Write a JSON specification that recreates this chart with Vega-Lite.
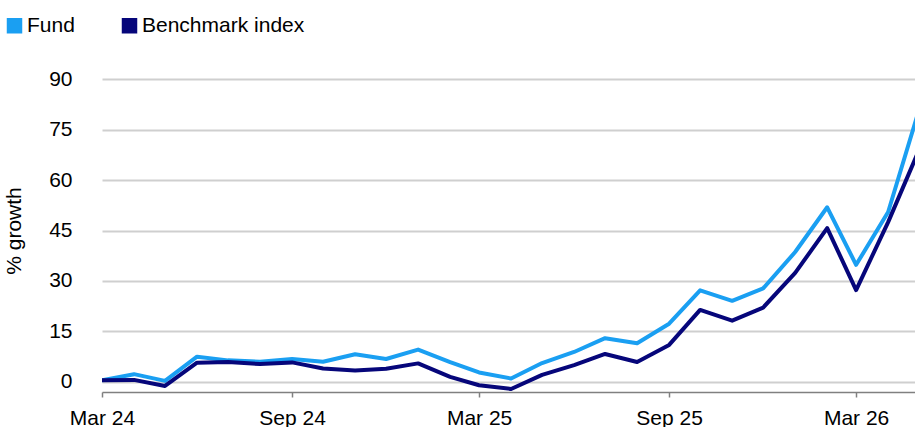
{
  "$schema": "https://vega.github.io/schema/vega-lite/v6.json",
  "width": 813,
  "height": 323,
  "autosize": {"type": "none"},
  "padding": {"left": 102, "top": 69, "right": 0, "bottom": 35},
  "background": "white",
  "config": {
    "view": {"stroke": null},
    "font": "Liberation Sans",
    "axis": {"labelFont": "Liberation Sans", "titleFont": "Liberation Sans", "labelColor": "#000000", "titleColor": "#000000"},
    "legend": {"labelFont": "Liberation Sans", "labelColor": "#000000"}
  },
  "data": {
    "values": [
      {"date": "2024-03-01", "series": "Fund", "value": 0.5},
      {"date": "2024-04-01", "series": "Fund", "value": 2.3},
      {"date": "2024-05-01", "series": "Fund", "value": 0.3},
      {"date": "2024-06-01", "series": "Fund", "value": 7.5},
      {"date": "2024-07-01", "series": "Fund", "value": 6.4},
      {"date": "2024-08-01", "series": "Fund", "value": 6.0},
      {"date": "2024-09-01", "series": "Fund", "value": 6.8},
      {"date": "2024-10-01", "series": "Fund", "value": 6.0},
      {"date": "2024-11-01", "series": "Fund", "value": 8.2},
      {"date": "2024-12-01", "series": "Fund", "value": 6.8},
      {"date": "2025-01-01", "series": "Fund", "value": 9.6},
      {"date": "2025-02-01", "series": "Fund", "value": 5.9},
      {"date": "2025-03-01", "series": "Fund", "value": 2.8},
      {"date": "2025-04-01", "series": "Fund", "value": 1.0},
      {"date": "2025-05-01", "series": "Fund", "value": 5.6},
      {"date": "2025-06-01", "series": "Fund", "value": 8.9},
      {"date": "2025-07-01", "series": "Fund", "value": 13.0},
      {"date": "2025-08-01", "series": "Fund", "value": 11.5},
      {"date": "2025-09-01", "series": "Fund", "value": 17.3},
      {"date": "2025-10-01", "series": "Fund", "value": 27.2},
      {"date": "2025-11-01", "series": "Fund", "value": 24.1},
      {"date": "2025-12-01", "series": "Fund", "value": 27.8},
      {"date": "2026-01-01", "series": "Fund", "value": 38.6},
      {"date": "2026-02-01", "series": "Fund", "value": 51.9},
      {"date": "2026-03-01", "series": "Fund", "value": 34.8},
      {"date": "2026-04-01", "series": "Fund", "value": 50.5},
      {"date": "2026-05-01", "series": "Fund", "value": 81.0},
      {"date": "2024-03-01", "series": "Benchmark index", "value": 0.5},
      {"date": "2024-04-01", "series": "Benchmark index", "value": 0.6},
      {"date": "2024-05-01", "series": "Benchmark index", "value": -1.2},
      {"date": "2024-06-01", "series": "Benchmark index", "value": 5.7},
      {"date": "2024-07-01", "series": "Benchmark index", "value": 5.9},
      {"date": "2024-08-01", "series": "Benchmark index", "value": 5.3},
      {"date": "2024-09-01", "series": "Benchmark index", "value": 5.8},
      {"date": "2024-10-01", "series": "Benchmark index", "value": 4.0},
      {"date": "2024-11-01", "series": "Benchmark index", "value": 3.4},
      {"date": "2024-12-01", "series": "Benchmark index", "value": 3.9},
      {"date": "2025-01-01", "series": "Benchmark index", "value": 5.5},
      {"date": "2025-02-01", "series": "Benchmark index", "value": 1.5},
      {"date": "2025-03-01", "series": "Benchmark index", "value": -1.0},
      {"date": "2025-04-01", "series": "Benchmark index", "value": -2.1},
      {"date": "2025-05-01", "series": "Benchmark index", "value": 2.1},
      {"date": "2025-06-01", "series": "Benchmark index", "value": 5.0},
      {"date": "2025-07-01", "series": "Benchmark index", "value": 8.3},
      {"date": "2025-08-01", "series": "Benchmark index", "value": 5.9},
      {"date": "2025-09-01", "series": "Benchmark index", "value": 11.0},
      {"date": "2025-10-01", "series": "Benchmark index", "value": 21.4},
      {"date": "2025-11-01", "series": "Benchmark index", "value": 18.2},
      {"date": "2025-12-01", "series": "Benchmark index", "value": 22.1},
      {"date": "2026-01-01", "series": "Benchmark index", "value": 32.4},
      {"date": "2026-02-01", "series": "Benchmark index", "value": 45.7},
      {"date": "2026-03-01", "series": "Benchmark index", "value": 27.3},
      {"date": "2026-04-01", "series": "Benchmark index", "value": 47.5},
      {"date": "2026-05-01", "series": "Benchmark index", "value": 69.0}
    ]
  },
  "mark": {"type": "line", "strokeWidth": 4, "clip": true, "strokeJoin": "round"},
  "encoding": {
    "x": {
      "field": "date",
      "type": "temporal",
      "scale": {
        "type": "utc",
        "domain": [
          {"year": 2024, "month": 3, "date": 1, "utc": true},
          {"year": 2026, "month": 4, "date": 27, "utc": true}
        ],
        "nice": false
      },
      "axis": {
        "title": null,
        "grid": false,
        "values": [
          {"year": 2024, "month": 3, "date": 1, "utc": true},
          {"year": 2024, "month": 9, "date": 1, "utc": true},
          {"year": 2025, "month": 3, "date": 1, "utc": true},
          {"year": 2025, "month": 9, "date": 1, "utc": true},
          {"year": 2026, "month": 3, "date": 1, "utc": true}
        ],
        "labelExpr": "utcFormat(datum.value, '%b %y')",
        "labelFontSize": 21,
        "labelPadding": 10,
        "tickSize": 5,
        "tickColor": "#808080",
        "tickWidth": 1.5,
        "domainColor": "#808080",
        "domainWidth": 1.5,
        "labelFlush": false,
        "labelOverlap": false
      }
    },
    "y": {
      "field": "value",
      "type": "quantitative",
      "scale": {"domain": [-3, 93], "nice": false, "zero": false},
      "axis": {
        "title": "% growth",
        "titleFontSize": 21,
        "titleFontWeight": "normal",
        "titlePadding": 24,
        "values": [0, 15, 30, 45, 60, 75, 90],
        "labelFontSize": 21,
        "labelPadding": 30,
        "domain": false,
        "ticks": false,
        "gridColor": "#cfcfcf",
        "gridWidth": 2
      }
    },
    "color": {
      "field": "series",
      "type": "nominal",
      "scale": {"domain": ["Fund", "Benchmark index"], "range": ["#1a9ff2", "#06067a"]},
      "legend": {
        "title": null,
        "orient": "none",
        "legendX": -98,
        "legendY": -54,
        "direction": "horizontal",
        "symbolType": "square",
        "symbolSize": 240,
        "symbolStrokeWidth": 0,
        "symbolOpacity": 1,
        "labelFontSize": 21,
        "labelLimit": 400,
        "labelOffset": 2,
        "columnPadding": 44,
        "encode": {
          "symbols": {
            "update": {
              "fill": {"field": "value", "scale": "color"},
              "fillOpacity": {"value": 1},
              "strokeWidth": {"value": 0}
            }
          }
        }
      }
    }
  }
}
